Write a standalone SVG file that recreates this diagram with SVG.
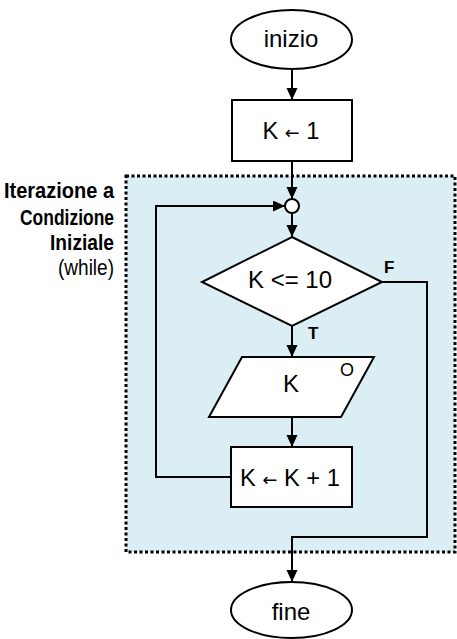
<svg xmlns="http://www.w3.org/2000/svg" width="457" height="639" viewBox="0 0 457 639">
<style>
.shape{fill:#fff;stroke:#000;stroke-width:2}
.conn{fill:none;stroke:#000;stroke-width:2}
.t{font-family:"Liberation Sans",Arial,sans-serif;font-size:24px;fill:#000;text-anchor:middle}
.ar{font-family:"DejaVu Sans",sans-serif;font-size:18px}
.lbl{font-family:"Liberation Sans",Arial,sans-serif;font-size:22px;fill:#000;text-anchor:end}
.b{font-weight:bold}
.tf{font-family:"Liberation Sans",Arial,sans-serif;font-size:17px;font-weight:bold;fill:#000}
</style>
<defs>
<marker id="ah" markerUnits="userSpaceOnUse" markerWidth="12" markerHeight="12" refX="12" refY="5.5" orient="auto">
<path d="M0,0 L12,5.5 L0,11 z" fill="#000"/>
</marker>
</defs>
<g id="loop-region">
<rect x="126" y="176" width="329" height="376" fill="#DAEEF3" stroke="#000" stroke-width="3" stroke-dasharray="3 2.5"/>
<text class="lbl b" x="114" y="198" textLength="110" lengthAdjust="spacingAndGlyphs">Iterazione a</text>
<text class="lbl b" x="114" y="225" textLength="94" lengthAdjust="spacingAndGlyphs">Condizione</text>
<text class="lbl b" x="114" y="250" textLength="64" lengthAdjust="spacingAndGlyphs">Iniziale</text>
<text class="lbl" x="114" y="275" textLength="56" lengthAdjust="spacingAndGlyphs">(while)</text>
</g>
<g id="connectors">
<path class="conn" d="M292,69 L292,100" marker-end="url(#ah)"/>
<path class="conn" d="M292,161 L292,199" marker-end="url(#ah)"/>
<path class="conn" d="M292,213 L292,237" marker-end="url(#ah)"/>
<path class="conn" d="M292,326 L292,357" marker-end="url(#ah)"/>
<path class="conn" d="M292,417 L292,447" marker-end="url(#ah)"/>
<path class="conn" d="M231,477 L156,477 L156,206 L285,206" marker-end="url(#ah)"/>
<path class="conn" d="M382,282 L427,282 L427,537 L292,537 L292,582" marker-end="url(#ah)"/>
<text class="tf" x="384" y="273">F</text>
<text class="tf" x="308" y="339">T</text>
</g>
<g id="start">
<ellipse class="shape" cx="291.5" cy="39.5" rx="60.5" ry="29.5"/>
<text class="t" x="291" y="47">inizio</text>
</g>
<g id="init">
<rect class="shape" x="232" y="100" width="120" height="61"/>
<text class="t" x="291" y="139" textLength="57" lengthAdjust="spacingAndGlyphs">K <tspan class="ar">←</tspan> 1</text>
</g>
<g id="junction">
<circle class="shape" cx="292" cy="206" r="7"/>
</g>
<g id="condition">
<polygon class="shape" points="292,237 382,282 292,326 202,282"/>
<text class="t" x="290" y="288" textLength="84" lengthAdjust="spacingAndGlyphs">K &lt;= 10</text>
</g>
<g id="output">
<polygon class="shape" points="242,357 374,357 341,417 209,417"/>
<text class="t" x="291" y="392">K</text>
<text class="t" x="347" y="376" style="font-size:18px">O</text>
</g>
<g id="increment">
<rect class="shape" x="231" y="447" width="121" height="60"/>
<text class="t" x="290" y="486" textLength="100" lengthAdjust="spacingAndGlyphs">K <tspan class="ar">←</tspan> K + 1</text>
</g>
<g id="end">
<ellipse class="shape" cx="291.5" cy="610" rx="60.5" ry="28"/>
<text class="t" x="291" y="620">fine</text>
</g>
</svg>
